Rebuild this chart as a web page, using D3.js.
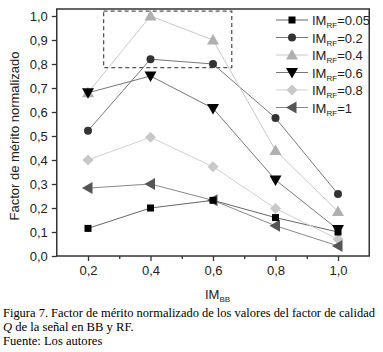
<!DOCTYPE html>
<html><head><meta charset="utf-8">
<script src="https://cdn.jsdelivr.net/npm/d3@7"></script>
<style>body{margin:0;background:#fff}svg{display:block}</style>
</head><body>
<script>
const xValues = [0.2, 0.4, 0.6, 0.8, 1.0];
const seriesNames = ["0.05", "0.2", "0.4", "0.6", "0.8", "1"];
const s005 = [0.115, 0.20, 0.232, 0.16, 0.10];
const s02  = [0.522, 0.82, 0.80, 0.575, 0.258];
const s04  = [0.68, 1.0, 0.90, 0.44, 0.185];
const s06  = [0.68, 0.75, 0.615, 0.317, 0.11];
const s08  = [0.40, 0.495, 0.372, 0.198, 0.07];
const s1   = [0.283, 0.30, 0.232, 0.126, 0.042];
const xTicks = [0.2, 0.4, 0.6, 0.8, 1.0];
const yTicks = [0,0.1,0.2,0.3,0.4,0.5,0.6,0.7,0.8,0.9,1.0];
const boxX = [0.25, 0.66];
const boxY = [0.785, 1.02];

const W = 383, H = 352;
const svg = d3.select("body").append("svg").attr("width", W).attr("height", H);
const x = d3.scaleLinear().domain([0.1, 1.1]).range([56.75, 369.25]);
const y = d3.scaleLinear().domain([0, 1]).range([256, 16]);
const frameTop = 9;

const series = [
  {vals: s005, shape: "square", fill: "#000", line: "#666"},
  {vals: s02, shape: "circle", fill: "#333", line: "#777"},
  {vals: s04, shape: "up", fill: "#b0b0b0", line: "#c8c8c8"},
  {vals: s06, shape: "down", fill: "#000", line: "#777"},
  {vals: s08, shape: "diamond", fill: "#c8c8c8", line: "#d0d0d0"},
  {vals: s1, shape: "left", fill: "#555", line: "#888"}
];

function marker(g, shape, cx, cy, fill){
  let p;
  if(shape==="square") { g.append("rect").attr("x",cx-3.5).attr("y",cy-3.5).attr("width",7).attr("height",7).attr("fill",fill); return; }
  if(shape==="circle") { g.append("circle").attr("cx",cx).attr("cy",cy).attr("r",4).attr("fill",fill); return; }
  if(shape==="up") p = [[cx,cy-6],[cx+6,cy+4.5],[cx-6,cy+4.5]];
  if(shape==="down") p = [[cx,cy+6],[cx+6,cy-4.5],[cx-6,cy-4.5]];
  if(shape==="left") p = [[cx-6,cy],[cx+4.5,cy-6],[cx+4.5,cy+6]];
  if(shape==="diamond") p = [[cx,cy-5.5],[cx+5.5,cy],[cx,cy+5.5],[cx-5.5,cy]];
  g.append("polygon").attr("points", p.map(d=>d.join(",")).join(" ")).attr("fill",fill);
}

svg.append("rect").attr("x", x(boxX[0])).attr("y", y(boxY[1]))
  .attr("width", x(boxX[1])-x(boxX[0])).attr("height", y(boxY[0])-y(boxY[1]))
  .attr("fill","none").attr("stroke","#555").attr("stroke-width",1.3).attr("stroke-dasharray","4,3");

const lineGen = d3.line().x((d,i)=>x(xValues[i])).y(d=>y(d));
const gl = svg.append("g");
series.forEach(s=>{
  gl.append("path").attr("d", lineGen(s.vals)).attr("fill","none").attr("stroke", s.line).attr("stroke-width",1);
});
const order = [4,2,5,0,1,3];
order.forEach(k=>{
  const s = series[k];
  const g = svg.append("g");
  s.vals.forEach((v,i)=>marker(g, s.shape, x(xValues[i]), y(v), s.fill));
});

svg.append("rect").attr("x", 56.75).attr("y", frameTop).attr("width", 369.25-56.75).attr("height", 256-frameTop)
  .attr("fill","none").attr("stroke","#333").attr("stroke-width",1.5);

const font = "Liberation Sans, Arial, sans-serif";
const xAxis = d3.axisBottom(x).tickValues(xTicks).tickFormat(d=>d3.format(".1f")(d).replace(".",",")).tickSize(5).tickPadding(5);
const gx = svg.append("g").attr("transform","translate(0,256)").call(xAxis);
gx.select(".domain").remove();
gx.selectAll("line").attr("stroke","#333").attr("stroke-width",1.3);
gx.selectAll("text").attr("font-family",font).attr("font-size",13).attr("fill","#222");
const gxm = svg.append("g").attr("transform","translate(0,256)").call(d3.axisBottom(x).tickValues([0.3,0.5,0.7,0.9]).tickSize(3).tickFormat(""));
gxm.select(".domain").remove();
gxm.selectAll("line").attr("stroke","#333").attr("stroke-width",1.3);

const yAxis = d3.axisLeft(y).tickValues(yTicks).tickFormat(d=>d3.format(".1f")(d).replace(".",",")).tickSize(5).tickPadding(4);
const gy = svg.append("g").attr("transform","translate(56.75,0)").call(yAxis);
gy.select(".domain").remove();
gy.selectAll("line").attr("stroke","#333").attr("stroke-width",1.3);
gy.selectAll("text").attr("font-family",font).attr("font-size",13).attr("fill","#222");

svg.append("text").attr("transform","translate(19,136) rotate(-90)").attr("text-anchor","middle")
  .attr("font-family",font).attr("font-size",13).attr("fill","#222").text("Factor de mérito normalizado");
const xt = svg.append("text").attr("x",205).attr("y",299).attr("font-family",font).attr("font-size",13).attr("fill","#222");
xt.append("tspan").text("IM");
xt.append("tspan").attr("font-size",8).attr("dy",3).text("BB");

series.forEach((s,i)=>{
  const ly = 20 + i*17.5;
  svg.append("line").attr("x1",276).attr("x2",308).attr("y1",ly).attr("y2",ly).attr("stroke",s.line).attr("stroke-width",1);
  const g = svg.append("g");
  marker(g, s.shape, 292, ly, s.fill);
  const t = svg.append("text").attr("x",312).attr("y",ly+5).attr("font-family",font).attr("font-size",13).attr("fill","#222");
  t.append("tspan").text("IM");
  t.append("tspan").attr("font-size",8).attr("dy",3).text("RF");
  t.append("tspan").attr("dy",-3).text("=" + seriesNames[i]);
});

const serif = "Liberation Serif, Times New Roman, serif";
svg.append("text").attr("x",3).attr("y",317).attr("font-family",serif).attr("font-size",12.6).attr("fill","#000")
  .attr("textLength",372).attr("lengthAdjust","spacingAndGlyphs")
  .text("Figura 7. Factor de mérito normalizado de los valores del factor de calidad");
const c2 = svg.append("text").attr("x",3).attr("y",331).attr("font-family",serif).attr("font-size",12.6).attr("fill","#000");
c2.append("tspan").attr("font-style","italic").text("Q");
c2.append("tspan").text(" de la señal en BB y RF.");
svg.append("text").attr("x",3).attr("y",345).attr("font-family",serif).attr("font-size",12.6).attr("fill","#000").text("Fuente: Los autores");
</script>
</body></html>
